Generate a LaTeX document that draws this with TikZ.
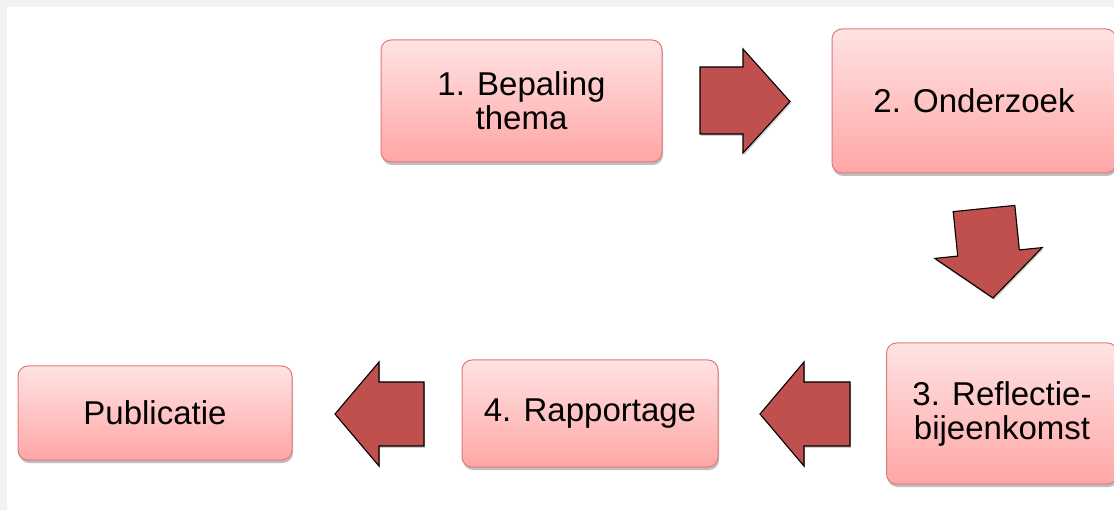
\documentclass[tikz,border=0pt]{standalone}
\usepackage{fontspec}
\setmainfont{Liberation Sans}
\usetikzlibrary{shadows}
\definecolor{arrowred}{HTML}{C0504D}
\definecolor{boxtop}{HTML}{FFE3E3}
\definecolor{boxbot}{HTML}{FFA6A6}
\definecolor{boxline}{HTML}{E07A7A}
\definecolor{stripgray}{HTML}{F2F2F2}
\tikzset{
  stepbox/.style={draw=boxline, line width=1pt, rounded corners=10pt,
    top color=boxtop, bottom color=boxbot, align=center, inner sep=0pt,
    font=\fontsize{33}{34}\selectfont,
    drop shadow={shadow xshift=1pt, shadow yshift=-3pt, fill=black, opacity=0.25}},
  blockarrow/.style={draw=black, line width=1.1pt, fill=arrowred, line join=miter,
    drop shadow={shadow xshift=1pt, shadow yshift=-2pt, fill=black, opacity=0.2}}
}
\begin{document}
\begin{tikzpicture}[x=1pt, y=-1pt]
\useasboundingbox (0,0) rectangle (1114,510);
\clip (0,0) rectangle (1114,510);
\fill[white] (0,0) rectangle (1114,510);
% grey page strips
\fill[stripgray] (0,0) rectangle (1114,7);
\fill[stripgray] (0,0) rectangle (7,510);

% boxes
\node[stepbox, minimum width=281pt, minimum height=122pt] (b1) at (521.5,101) {1. Bepaling\\thema};
\node[stepbox, minimum width=284pt, minimum height=144pt] (b2) at (974,101) {2. Onderzoek};
\node[stepbox, minimum width=231pt, minimum height=141pt] (b3) at (1002,413.5) {3. Reflectie-\\bijeenkomst};
\node[stepbox, minimum width=256pt, minimum height=107pt] (b4) at (590,413.5) {4. Rapportage};
\node[stepbox, minimum width=274pt, minimum height=94pt] (b5) at (155,413) {Publicatie};

% block arrows
\draw[blockarrow] (700,67) -- (743,67) -- (743,49) -- (790,101.5) -- (743,153) -- (743,134) -- (700,134) -- cycle;
\draw[blockarrow] (953.2,211.6) -- (1014.8,205.4) -- (1019.3,249.9) -- (1042.2,247.6) -- (993,298) -- (934.8,258.4) -- (957.7,256.1) -- cycle;
\draw[blockarrow] (335,414) -- (379,362) -- (379,382) -- (424,382) -- (424,446) -- (379,446) -- (379,466) -- cycle;
\draw[blockarrow] (760,414) -- (804,362) -- (804,382) -- (850,382) -- (850,446) -- (804,446) -- (804,466) -- cycle;
\end{tikzpicture}
\end{document}
